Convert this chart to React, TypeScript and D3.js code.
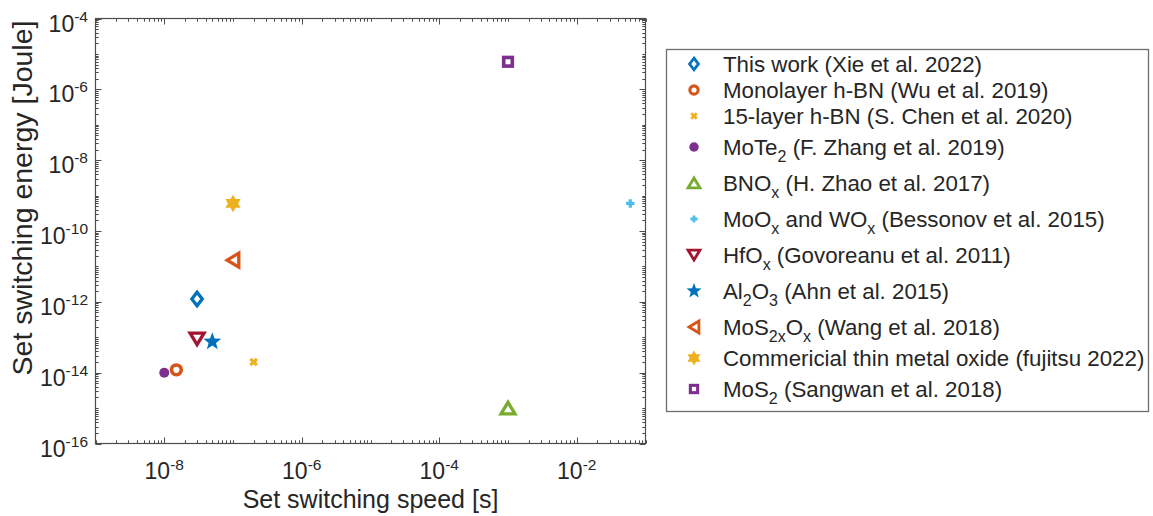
import React from 'react';
import * as d3 from 'd3';

// Reported set-switching figures of merit for several resistive-switching materials
const labels = [
  'This work (Xie et al. 2022)',
  'Monolayer h-BN (Wu et al. 2019)',
  '15-layer h-BN (S. Chen et al. 2020)',
  'MoTe_2 (F. Zhang et al. 2019)',
  'BNO_x (H. Zhao et al. 2017)',
  'MoO_x and WO_x (Bessonov et al. 2015)',
  'HfO_x (Govoreanu et al. 2011)',
  'Al_2O_3 (Ahn et al. 2015)',
  'MoS_{2x}O_x (Wang et al. 2018)',
  'Commericial thin metal oxide (fujitsu 2022)',
  'MoS_2 (Sangwan et al. 2018)',
];
// switching speed [s]
const speeds = [3e-8, 1.5e-8, 2e-7, 1e-8, 1e-3, 6e-2, 3e-8, 5e-8, 1e-7, 1e-7, 1e-3];
// switching energy [J]
const energies = [1.2e-12, 1.2e-14, 2e-14, 1e-14, 1e-15, 6e-10, 9e-14, 7.5e-14, 1.5e-11, 6e-10, 6e-6];
const markerTypes = [
  'diamond', 'circle', 'x', 'dot', 'triangleUp', 'plus',
  'triangleDown', 'pentagram', 'triangleLeft', 'hexagram', 'square',
];
const markerColors = [
  '#0072BD', '#D95319', '#EDB120', '#7E2F8E', '#77AC30', '#4DBEEE',
  '#A2142F', '#0072BD', '#D95319', '#EDB120', '#7E2F8E',
];
const xLabeledExponents = [-8, -6, -4, -2];
const yLabeledExponents = [-4, -6, -8, -10, -12, -14, -16];
const xDomain: [number, number] = [1e-9, 1e-1];
const yDomain: [number, number] = [1e-16, 1e-4];

const W = 1153;
const H = 516;
const plot = { left: 95.5, right: 645.5, top: 18.5, bottom: 443.5 };
const FONT = '"Liberation Sans", Arial, Helvetica, sans-serif';
const TEXT = '#262626';
const AXIS = '#4d4d4d';

const x = d3.scaleLog().domain(xDomain).range([plot.left, plot.right]);
const y = d3.scaleLog().domain(yDomain).range([plot.bottom, plot.top]);

function polygon(pts: [number, number][]) {
  return 'M' + pts.map((p) => p[0].toFixed(2) + ',' + p[1].toFixed(2)).join('L') + 'Z';
}

function starPoints(n: number, R: number, r: number): [number, number][] {
  const pts: [number, number][] = [];
  for (let i = 0; i < n * 2; i++) {
    const a = -Math.PI / 2 + (i * Math.PI) / n;
    const rad = i % 2 === 0 ? R : r;
    pts.push([rad * Math.cos(a), rad * Math.sin(a)]);
  }
  return pts;
}

function Marker({ type, color, cx, cy, k = 1 }: { type: string; color: string; cx: number; cy: number; k?: number }) {
  const sw = 3.3 * (k < 1 ? 0.85 : 1);
  const t = `translate(${cx},${cy})`;
  switch (type) {
    case 'diamond':
      return <path transform={t} d={polygon([[0, -6.8 * k], [5.2 * k, 0], [0, 6.8 * k], [-5.2 * k, 0]])} fill="none" stroke={color} strokeWidth={sw} strokeLinejoin="miter" />;
    case 'circle':
      return <circle transform={t} r={4.9 * k} fill="none" stroke={color} strokeWidth={sw * 1.1} />;
    case 'x': {
      const a = 3.2 * k;
      return <path transform={t} d={`M${-a},${-a}L${a},${a}M${-a},${a}L${a},${-a}`} stroke={color} strokeWidth={sw} fill="none" />;
    }
    case 'dot':
      return <circle transform={t} r={5 * (k < 1 ? 0.95 : 1)} fill={color} />;
    case 'triangleUp':
      return <path transform={t} d={polygon([[0, -5.8 * k], [7 * k, 5.8 * k], [-7 * k, 5.8 * k]])} fill="none" stroke={color} strokeWidth={sw} strokeLinejoin="miter" />;
    case 'plus': {
      const a = 4.2 * k;
      return <path transform={t} d={`M${-a},0L${a},0M0,${-a}L0,${a}`} stroke={color} strokeWidth={sw} fill="none" />;
    }
    case 'triangleDown':
      return <path transform={t} d={polygon([[0, 5.8 * k], [7 * k, -5.8 * k], [-7 * k, -5.8 * k]])} fill="none" stroke={color} strokeWidth={sw} strokeLinejoin="miter" />;
    case 'triangleLeft':
      return <path transform={t} d={polygon([[-5.8 * k, 0], [5.8 * k, -7 * k], [5.8 * k, 7 * k]])} fill="none" stroke={color} strokeWidth={sw} strokeLinejoin="miter" />;
    case 'pentagram':
      return <path transform={t} d={polygon(starPoints(5, 9.3 * k, 9.3 * k * 0.42))} fill={color} />;
    case 'hexagram':
      return <path transform={t} d={polygon(starPoints(6, 8.8 * k, (8.8 * k) / Math.sqrt(3)))} fill={color} />;
    case 'square': {
      const a = 4.3 * k;
      return <rect transform={t} x={-a} y={-a} width={2 * a} height={2 * a} fill="none" stroke={color} strokeWidth={sw * 1.1} />;
    }
    default:
      return null;
  }
}

// Split a TeX-like label ("MoS_{2x}O_x") into normal and subscript runs
function parseTex(s: string): { text: string; sub: boolean }[] {
  const out: { text: string; sub: boolean }[] = [];
  let buf = '';
  let i = 0;
  while (i < s.length) {
    if (s[i] === '_') {
      if (buf) out.push({ text: buf, sub: false });
      buf = '';
      if (s[i + 1] === '{') {
        const end = s.indexOf('}', i);
        out.push({ text: s.slice(i + 2, end), sub: true });
        i = end + 1;
      } else {
        out.push({ text: s[i + 1], sub: true });
        i += 2;
      }
    } else {
      buf += s[i];
      i++;
    }
  }
  if (buf) out.push({ text: buf, sub: false });
  return out;
}

function TexText({ label, x0, y0, size, subSize, shift }: { label: string; x0: number; y0: number; size: number; subSize: number; shift: number }) {
  const parts = parseTex(label);
  let cur = 0;
  return (
    <text x={x0} y={y0} fontSize={size} fill={TEXT} style={{ whiteSpace: 'pre' }}>
      {parts.map((p, i) => {
        const target = p.sub ? shift : 0;
        const dy = target - cur;
        cur = target;
        return (
          <tspan key={i} dy={dy} fontSize={p.sub ? subSize : size}>
            {p.text}
          </tspan>
        );
      })}
    </text>
  );
}

function logTicks(domain: [number, number]) {
  const lo = Math.round(Math.log10(domain[0]));
  const hi = Math.round(Math.log10(domain[1]));
  const ticks: { v: number; e: number; m: number }[] = [];
  for (let e = lo; e <= hi; e++) {
    for (let m = 1; m <= 9; m++) {
      const v = m * Math.pow(10, e);
      if (v > domain[1] * 1.0001) break;
      ticks.push({ v, e, m });
    }
  }
  return ticks;
}

export default function App() {
  const xTicks = logTicks(xDomain);
  const yTicks = logTicks(yDomain);
  const majorLen = 6;
  const minorLen = 3.2;

  const isXMajor = (t: { e: number; m: number }) => t.m === 1 && xLabeledExponents.includes(t.e);
  const isYMajor = (t: { e: number; m: number }) => t.m === 1 && yLabeledExponents.includes(t.e);

  // Legend layout: rows with subscripts take a little more room
  const hasSub = labels.map((l) => l.includes('_'));
  const legendRows: number[] = [];
  let ly = 64;
  labels.forEach((_, i) => {
    if (i > 0) ly += 26 + (hasSub[i - 1] ? 5 : 0) + (hasSub[i] ? 5 : 0);
    legendRows.push(ly);
  });
  const legendBox = { x: 666.5, y: 49.5, w: 482, h: 362 };

  return (
    <svg width={W} height={H} style={{ position: 'absolute', left: 0, top: 0, background: '#fff' }} fontFamily={FONT}>
      <rect x={0} y={0} width={W} height={H} fill="#fff" />

      {/* data markers */}
      {speeds.map((s, i) => (
        <Marker key={i} type={markerTypes[i]} color={markerColors[i]} cx={x(s)} cy={y(energies[i])} />
      ))}

      {/* axes box with inward ticks on all sides */}
      <g stroke={AXIS} strokeWidth={1} fill="none">
        {xTicks.map((t, i) => {
          const px = Math.round(x(t.v)) + 0.5;
          const len = isXMajor(t) ? majorLen : minorLen;
          return (
            <g key={'xt' + i}>
              <line x1={px} x2={px} y1={plot.bottom} y2={plot.bottom - len} />
              <line x1={px} x2={px} y1={plot.top} y2={plot.top + len} />
            </g>
          );
        })}
        {yTicks.map((t, i) => {
          const py = Math.round(y(t.v)) + 0.5;
          const len = isYMajor(t) ? majorLen : minorLen;
          return (
            <g key={'yt' + i}>
              <line y1={py} y2={py} x1={plot.left} x2={plot.left + len} />
              <line y1={py} y2={py} x1={plot.right} x2={plot.right - len} />
            </g>
          );
        })}
        <rect x={plot.left} y={plot.top} width={plot.right - plot.left} height={plot.bottom - plot.top} strokeWidth={1.2} />
      </g>

      {/* tick labels */}
      {xLabeledExponents.map((e) => (
        <text key={'xl' + e} x={x(Math.pow(10, e))} y={479} textAnchor="middle" fontSize={23} fill={TEXT}>
          10
          <tspan dy={-9} fontSize={15.5}>{String(e)}</tspan>
        </text>
      ))}
      {yLabeledExponents.map((e) => (
        <text key={'yl' + e} x={88} y={y(Math.pow(10, e)) + 13} textAnchor="end" fontSize={23} fill={TEXT}>
          10
          <tspan dy={-10} fontSize={15.5}>{String(e)}</tspan>
        </text>
      ))}

      {/* axis titles */}
      <text x={(plot.left + plot.right) / 2} y={508} textAnchor="middle" fontSize={25} fill={TEXT}>
        Set switching speed [s]
      </text>
      <text transform="translate(32,198) rotate(-90)" textAnchor="middle" fontSize={28.5} fill={TEXT}>
        Set switching energy [Joule]
      </text>

      {/* legend */}
      <rect x={legendBox.x} y={legendBox.y} width={legendBox.w} height={legendBox.h} fill="#fff" stroke="#6e6e6e" strokeWidth={1.3} />
      {labels.map((l, i) => (
        <g key={'lg' + i}>
          <Marker type={markerTypes[i]} color={markerColors[i]} cx={694} cy={legendRows[i]} k={0.85} />
          <TexText label={l} x0={723} y0={legendRows[i] + 8} size={22.3} subSize={16} shift={7} />
        </g>
      ))}
    </svg>
  );
}
